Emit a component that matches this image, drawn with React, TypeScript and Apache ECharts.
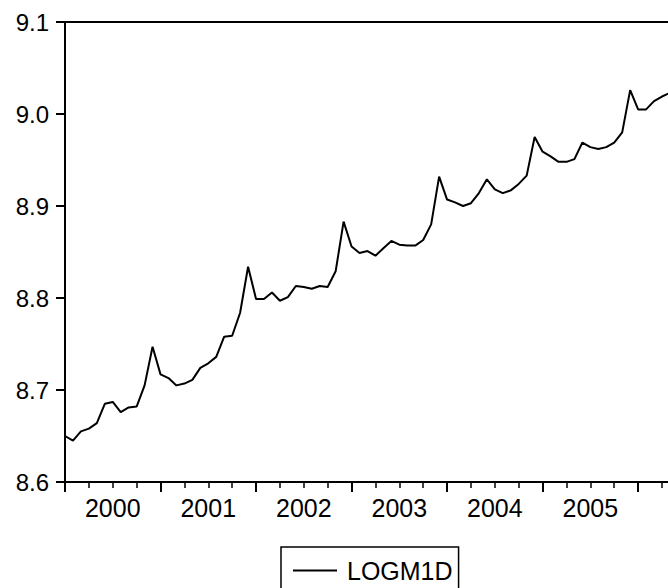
import React, { useEffect, useRef } from "react";
import * as echarts from "echarts";

// Monthly observations starting 2000M01
const seriesName = "LOGM1D";
const startYear = 2000;
const yearLabels = ["2000", "2001", "2002", "2003", "2004", "2005", "2006"];
const yTicks = { min: 8.6, max: 9.1, step: 0.1 };
const logm1d = [
  8.650, 8.645, 8.655, 8.658, 8.664, 8.685, 8.687, 8.676, 8.681, 8.682, 8.705, 8.747,
  8.717, 8.713, 8.705, 8.707, 8.711, 8.724, 8.729, 8.736, 8.758, 8.759, 8.784, 8.834,
  8.799, 8.799, 8.806, 8.797, 8.801, 8.813, 8.812, 8.810, 8.813, 8.812, 8.829, 8.883,
  8.856, 8.849, 8.851, 8.846, 8.854, 8.862, 8.858, 8.857, 8.857, 8.863, 8.880, 8.932,
  8.907, 8.904, 8.900, 8.903, 8.914, 8.929, 8.918, 8.914, 8.917, 8.924, 8.933, 8.975,
  8.959, 8.954, 8.948, 8.948, 8.951, 8.969, 8.964, 8.962, 8.964, 8.969, 8.980, 9.026,
  9.005, 9.005, 9.014, 9.019, 9.023,
];

const VIEW_W = 668;
const VIEW_H = 588;
const PLOT_LEFT = 65;
const MONTH_PX = 7.96;
const INNER_W = 760;

export default function App() {
  const ref = useRef<HTMLDivElement>(null);
  useEffect(() => {
    document.body.style.margin = "0";
    if (!ref.current) return;
    const chart = echarts.init(ref.current, null, { renderer: "svg" });
    const font = "Liberation Sans, Arial, sans-serif";
    const monthsShown = yearLabels.length * 12;
    chart.setOption({
      animation: false,
      backgroundColor: "#fff",
      grid: {
        left: PLOT_LEFT,
        top: 22,
        bottom: 106,
        right: INNER_W - (PLOT_LEFT + monthsShown * MONTH_PX),
        show: true,
        borderColor: "#000",
        borderWidth: 2,
      },
      legend: {
        left: 281,
        top: 547,
        orient: "horizontal",
        data: [seriesName],
        icon: "rect",
        itemWidth: 44,
        itemHeight: 2,
        padding: [11, 6, 40, 12],
        borderColor: "#000",
        borderWidth: 1.5,
        borderRadius: 0,
        textStyle: { fontSize: 25, color: "#000", fontFamily: font, padding: [0, 0, 0, 5] },
        itemStyle: { color: "#000" },
      },
      xAxis: [
        {
          type: "value",
          min: 0,
          max: monthsShown,
          interval: 12,
          axisLine: { show: true, lineStyle: { color: "#000", width: 2 } },
          axisTick: { show: true, length: 10, lineStyle: { color: "#000", width: 2 } },
          minorTick: { show: true, splitNumber: 4, length: 6, lineStyle: { color: "#000", width: 1.5 } },
          axisLabel: { show: false },
          splitLine: { show: false },
        },
        {
          type: "category",
          position: "bottom",
          data: yearLabels,
          boundaryGap: true,
          axisLine: { show: false },
          axisTick: { show: false },
          axisLabel: {
            show: true,
            interval: 0,
            margin: 13,
            fontSize: 25,
            color: "#000",
            fontFamily: font,
            formatter: (v: string, i: number) => (i < 6 ? v : ""),
          },
          splitLine: { show: false },
        },
      ],
      yAxis: {
        type: "value",
        min: yTicks.min,
        max: yTicks.max,
        interval: yTicks.step,
        axisLine: { show: true, lineStyle: { color: "#000", width: 2 } },
        axisTick: { show: true, length: 9, lineStyle: { color: "#000", width: 2 } },
        axisLabel: {
          margin: 16,
          fontSize: 24,
          color: "#000",
          fontFamily: font,
          padding: [0, 0, 4, 0],
          formatter: (v: number) => v.toFixed(1),
        },
        splitLine: { show: false },
      },
      series: [
        {
          name: seriesName,
          type: "line",
          xAxisIndex: 0,
          data: logm1d.map((v, i) => [i, v]),
          symbol: "none",
          lineStyle: { color: "#000", width: 2 },
          itemStyle: { color: "#000" },
        },
      ],
    });
    return () => chart.dispose();
  }, []);
  return (
    <div style={{ width: VIEW_W, height: VIEW_H, overflow: "hidden", background: "#fff" }} data-start={startYear}>
      <div ref={ref} style={{ width: INNER_W, height: VIEW_H }} />
    </div>
  );
}
